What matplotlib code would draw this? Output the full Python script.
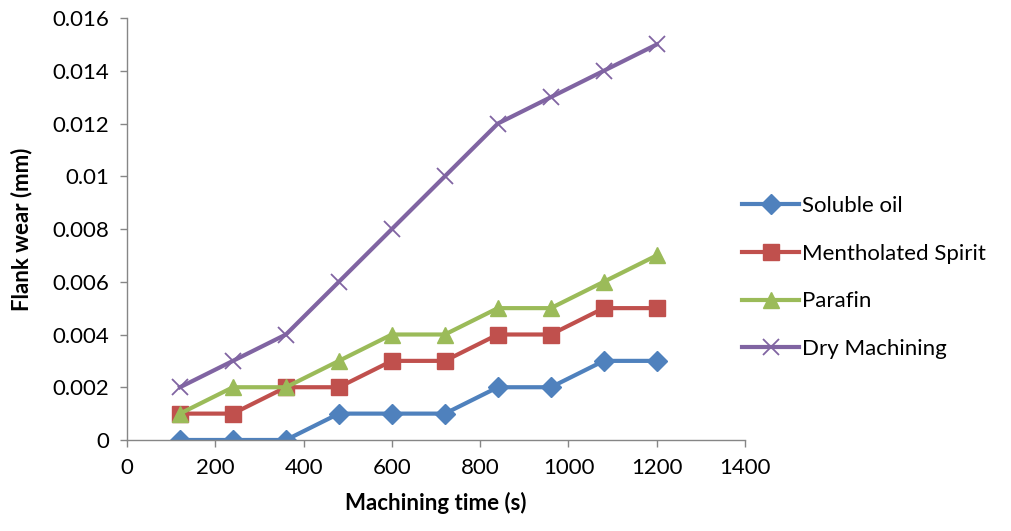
import matplotlib
matplotlib.use("Agg")
import matplotlib.pyplot as plt

plt.rcParams['font.family'] = ['Lato', 'DejaVu Sans']

time_s = [120, 240, 360, 480, 600, 720, 840, 960, 1080, 1200]
soluble_oil = [0, 0, 0, 0.001, 0.001, 0.001, 0.002, 0.002, 0.003, 0.003]
mentholated = [0.001, 0.001, 0.002, 0.002, 0.003, 0.003, 0.004, 0.004, 0.005, 0.005]
parafin = [0.001, 0.002, 0.002, 0.003, 0.004, 0.004, 0.005, 0.005, 0.006, 0.007]
dry = [0.002, 0.003, 0.004, 0.006, 0.008, 0.010, 0.012, 0.013, 0.014, 0.015]

x_ticks = [0, 200, 400, 600, 800, 1000, 1200, 1400]
y_ticks = [0, 0.002, 0.004, 0.006, 0.008, 0.01, 0.012, 0.014, 0.016]
y_labels = ['0', '0.002', '0.004', '0.006', '0.008', '0.01', '0.012', '0.014', '0.016']

fig = plt.figure(figsize=(10.11, 5.31), dpi=100)
ax = fig.add_axes([0.1256, 0.1714, 0.6114, 0.7946])

ax.plot(time_s, soluble_oil, color='#4F81BD', marker='D', markersize=10, lw=3, label='Soluble oil')
ax.plot(time_s, mentholated, color='#C0504D', marker='s', markersize=11, lw=3, label='Mentholated Spirit')
ax.plot(time_s, parafin, color='#9BBB59', marker='^', markersize=12, lw=3, label='Parafin')
ax.plot(time_s, dry, color='#8064A2', marker='x', markersize=12, mew=1.3, lw=3, label='Dry Machining')

ax.set_xlim(0, 1400)
ax.set_ylim(0, 0.016)
ax.set_xticks(x_ticks)
ax.set_yticks(y_ticks)
ax.set_yticklabels(y_labels)
ax.tick_params(labelsize=16, length=5, width=1, color='#868686', direction='out', pad=8)
for s in ['top', 'right']:
    ax.spines[s].set_visible(False)
for s in ['left', 'bottom']:
    ax.spines[s].set_color('#868686')
    ax.spines[s].set_linewidth(1)

ax.set_xlabel('Machining time (s)', fontsize=16, fontweight='bold', labelpad=10)
ax.set_ylabel('Flank wear (mm)', fontsize=16, fontweight='bold', labelpad=14)

ax.legend(loc='center left', bbox_to_anchor=(0.962, 0.385), frameon=False, fontsize=16,
          handlelength=2.6, labelspacing=1.25, handletextpad=0.12)

fig.savefig('out.png', dpi=100)
